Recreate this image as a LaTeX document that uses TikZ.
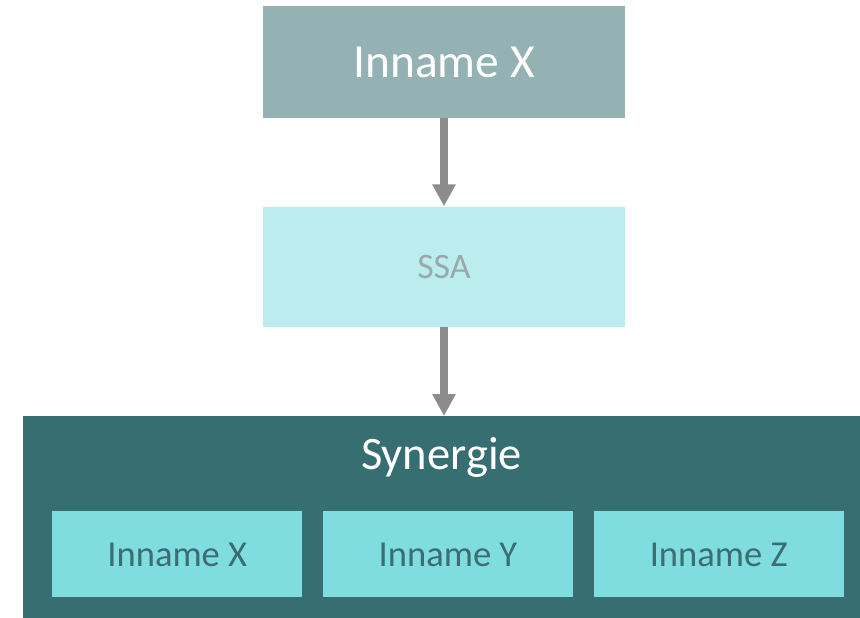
\documentclass[tikz,border=0pt]{standalone}
\usepackage{fontspec}
\setmainfont{Carlito}
\usetikzlibrary{arrows.meta,positioning}
\definecolor{headfill}{HTML}{94B2B3}
\definecolor{ssafill}{HTML}{BBEDEE}
\definecolor{ssatext}{HTML}{9AAAAB}
\definecolor{synfill}{HTML}{366E72}
\definecolor{memberfill}{HTML}{7FDDDF}
\definecolor{membertext}{HTML}{3B6E72}
\definecolor{arrowgray}{HTML}{8C8C8C}
\begin{document}
\begin{tikzpicture}[
  box/.style={rectangle, minimum width=7.24cm, align=center, inner sep=0pt},
  member/.style={rectangle, fill=memberfill, text=membertext, minimum width=5cm, minimum height=1.72cm, inner sep=0pt, font=\fontsize{20.8}{24}\selectfont},
  arrow/.style={-{Triangle[width=0.44cm,length=0.44cm]}, line width=0.16cm, draw=arrowgray}
]
\useasboundingbox (0,0) rectangle (17.2,-12.34);
\node[box, fill=headfill, text=white, minimum height=2.24cm, font=\fontsize{27}{32}\selectfont] (headX) at (8.88,-1.24) {Inname X};
\node[box, fill=ssafill, text=ssatext, minimum height=2.4cm, font=\fontsize{20.4}{24}\selectfont, below=1.76cm of headX] (ssa) {SSA};
\node[rectangle, fill=synfill, minimum width=16.74cm, minimum height=4.04cm, inner sep=0pt, below=1.78cm of ssa, xshift=-0.05cm,
  label={[anchor=center, yshift=-0.82cm, text=white, font=\fontsize{26.5}{32}\selectfont]north:Synergie}] (syn) {};
\node[member] (memY) at ([xshift=0.13cm, yshift=-0.74cm]syn.center) {Inname Y};
\node[member, left=0.4cm of memY] (memX) {Inname X};
\node[member, right=0.4cm of memY] (memZ) {Inname Z};

\draw[arrow] (headX) -- (ssa);
\draw[arrow] (ssa) -- (ssa |- syn.north);
\end{tikzpicture}
\end{document}
